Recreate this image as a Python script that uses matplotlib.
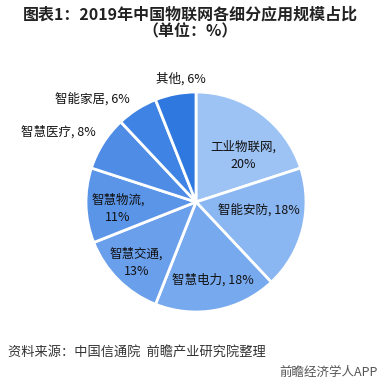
import matplotlib.pyplot as plt

plt.rcParams['font.family'] = ['Noto Sans CJK SC', 'DejaVu Sans']

# data
categories = ['工业物联网', '智能安防', '智慧电力', '智慧交通', '智慧物流', '智慧医疗', '智能家居', '其他']
shares = [20, 18, 18, 13, 11, 8, 6, 6]
colors = ['#9DC3F5', '#8AB6F2', '#77A9EE', '#6A9FEC', '#5B95E8', '#4E8CE6', '#3F83E4', '#2F78E0']
# label text layout: two-line for some slices
two_line = [True, False, False, True, True, False, False, False]
label_pos = [(0.43, 0.42), (0.57, -0.07), (0.15, -0.71), (-0.54, -0.55),
             (-0.71, -0.06), (-1.25, 0.64), (-0.94, 0.94), (-0.14, 1.12)]

fig = plt.figure(figsize=(3.8, 3.83), dpi=100)

cx, cy, r = 196, 202, 110
W, H = 380, 383
ax = fig.add_axes([(cx - r) / W, 1 - (cy + r) / H, 2 * r / W, 2 * r / H])
ax.pie(shares, colors=colors, startangle=90, counterclock=False,
       wedgeprops=dict(edgecolor='white', linewidth=2))
ax.set_xlim(-1, 1)
ax.set_ylim(-1, 1)
ax.set_aspect('equal')
ax.axis('off')

for name, v, tl, (x, y) in zip(categories, shares, two_line, label_pos):
    txt = f'{name},\n{v}%' if tl else f'{name}, {v}%'
    ax.text(x, y, txt, ha='center', va='center', fontsize=9, color='#111111',
            linespacing=1.4, clip_on=False)

fig.text(0.5, 1 - 14 / H, '图表1：2019年中国物联网各细分应用规模占比', ha='center', va='center',
         fontsize=11.5, fontweight='bold', color='#222222')
fig.text(0.5, 1 - 31 / H, '（单位：%）', ha='center', va='center',
         fontsize=11.5, fontweight='bold', color='#222222')
fig.text(8 / W, 1 - 352 / H, '资料来源：中国信通院  前瞻产业研究院整理', ha='left', va='center',
         fontsize=9.5, color='#333333')
fig.text(378 / W, 1 - 372 / H, '前瞻经济学人APP', ha='right', va='center',
         fontsize=9, color='#555555')

fig.savefig('out.png', dpi=100)
